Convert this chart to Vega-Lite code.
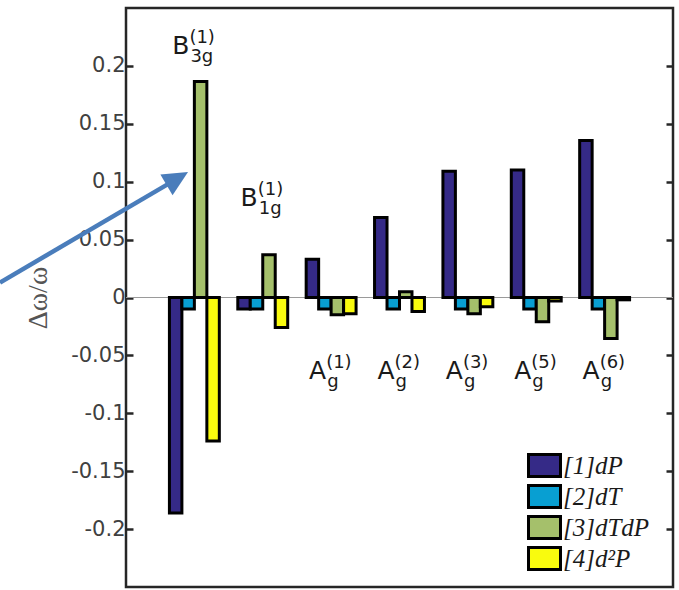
{
  "$schema": "https://vega.github.io/schema/vega-lite/v6.json",
  "width": 547,
  "height": 579,
  "autosize": {"type": "none"},
  "padding": {"left": 126, "top": 8, "right": 6, "bottom": 3},
  "background": "white",
  "config": {
    "view": {"stroke": "#262626", "strokeWidth": 2.5},
    "axis": {
      "labelFont": "DejaVu Sans",
      "labelFontSize": 21,
      "labelColor": "#404040",
      "tickColor": "#262626",
      "tickWidth": 2.5,
      "domain": false,
      "grid": false
    }
  },
  "datasets": {
    "bars": [
      {"group": "B3g(1)", "series": "[1]dP", "value": -0.186},
      {"group": "B3g(1)", "series": "[2]dT", "value": -0.01},
      {"group": "B3g(1)", "series": "[3]dTdP", "value": 0.1865},
      {"group": "B3g(1)", "series": "[4]d²P", "value": -0.124},
      {"group": "B1g(1)", "series": "[1]dP", "value": -0.01},
      {"group": "B1g(1)", "series": "[2]dT", "value": -0.01},
      {"group": "B1g(1)", "series": "[3]dTdP", "value": 0.037},
      {"group": "B1g(1)", "series": "[4]d²P", "value": -0.026},
      {"group": "Ag(1)", "series": "[1]dP", "value": 0.033},
      {"group": "Ag(1)", "series": "[2]dT", "value": -0.01},
      {"group": "Ag(1)", "series": "[3]dTdP", "value": -0.015},
      {"group": "Ag(1)", "series": "[4]d²P", "value": -0.014},
      {"group": "Ag(2)", "series": "[1]dP", "value": 0.069},
      {"group": "Ag(2)", "series": "[2]dT", "value": -0.01},
      {"group": "Ag(2)", "series": "[3]dTdP", "value": 0.005},
      {"group": "Ag(2)", "series": "[4]d²P", "value": -0.012},
      {"group": "Ag(3)", "series": "[1]dP", "value": 0.109},
      {"group": "Ag(3)", "series": "[2]dT", "value": -0.01},
      {"group": "Ag(3)", "series": "[3]dTdP", "value": -0.014},
      {"group": "Ag(3)", "series": "[4]d²P", "value": -0.008},
      {"group": "Ag(5)", "series": "[1]dP", "value": 0.11},
      {"group": "Ag(5)", "series": "[2]dT", "value": -0.01},
      {"group": "Ag(5)", "series": "[3]dTdP", "value": -0.021},
      {"group": "Ag(5)", "series": "[4]d²P", "value": -0.003},
      {"group": "Ag(6)", "series": "[1]dP", "value": 0.1355},
      {"group": "Ag(6)", "series": "[2]dT", "value": -0.01},
      {"group": "Ag(6)", "series": "[3]dTdP", "value": -0.0355},
      {"group": "Ag(6)", "series": "[4]d²P", "value": -0.002}
    ],
    "labels": [
      {"group": "B3g(1)", "main": "B", "sup": "(1)", "sub": "3g", "ly": 0.2107},
      {"group": "B1g(1)", "main": "B", "sup": "(1)", "sub": "1g", "ly": 0.079},
      {"group": "Ag(1)", "main": "A", "sup": "(1)", "sub": "g", "ly": -0.0704},
      {"group": "Ag(2)", "main": "A", "sup": "(2)", "sub": "g", "ly": -0.0704},
      {"group": "Ag(3)", "main": "A", "sup": "(3)", "sub": "g", "ly": -0.0704},
      {"group": "Ag(5)", "main": "A", "sup": "(5)", "sub": "g", "ly": -0.0704},
      {"group": "Ag(6)", "main": "A", "sup": "(6)", "sub": "g", "ly": -0.0704}
    ],
    "arrow": [{"x": -1.843, "y": 0.0129, "x2": 0.614, "y2": 0.0979}],
    "head": [{"x": 0.7496, "y": 0.1028}]
  },
  "resolve": {"scale": {"x": "independent"}, "axis": {"y": "independent"}},
  "layer": [
    {
      "layer": [
        {
          "data": {"name": "bars"},
          "mark": {"type": "rule", "color": "#9a9a9a", "strokeWidth": 1},
          "encoding": {
            "y": {
              "datum": 0,
              "type": "quantitative",
              "scale": {"domain": [-0.25, 0.25], "nice": false},
              "axis": {
                "title": "Δω/ω",
                "values": [-0.2, -0.15, -0.1, -0.05, 0, 0.05, 0.1, 0.15, 0.2],
                "labelExpr": "replace(format(datum.value, '~g'), '−', '-')",
                "tickSize": -7,
                "labelPadding": 8,
                "titleFont": "Liberation Serif",
                "titleFontSize": 28,
                "titleFontWeight": "normal",
                "titleColor": "#555555",
                "titlePadding": 18
              }
            }
          }
        },
        {
          "data": {"name": "bars"},
          "mark": {"type": "bar", "stroke": "black", "strokeWidth": 3, "strokeJoin": "miter"},
          "encoding": {
            "x": {
              "field": "group",
              "type": "nominal",
              "sort": ["B3g(1)", "B1g(1)", "Ag(1)", "Ag(2)", "Ag(3)", "Ag(5)", "Ag(6)"],
              "scale": {"type": "band", "paddingInner": 0.27, "paddingOuter": 0.635},
              "axis": null
            },
            "xOffset": {
              "field": "series",
              "type": "nominal",
              "scale": {"paddingInner": 0, "paddingOuter": 0}
            },
            "y": {
              "field": "value",
              "type": "quantitative",
              "scale": {"domain": [-0.25, 0.25], "nice": false},
              "axis": {
                "title": "Δω/ω",
                "values": [-0.2, -0.15, -0.1, -0.05, 0, 0.05, 0.1, 0.15, 0.2],
                "labelExpr": "replace(format(datum.value, '~g'), '−', '-')",
                "tickSize": -7,
                "labelPadding": 8,
                "titleFont": "Liberation Serif",
                "titleFontSize": 28,
                "titleFontWeight": "normal",
                "titleColor": "#555555",
                "titlePadding": 18
              }
            },
            "fill": {
              "field": "series",
              "type": "nominal",
              "scale": {
                "domain": ["[1]dP", "[2]dT", "[3]dTdP", "[4]d²P"],
                "range": ["#352a87", "#089fd2", "#a5c06b", "#f9fb0e"]
              },
              "legend": {
                "title": null,
                "orient": "none",
                "legendX": 406,
                "legendY": 445,
                "padding": 0,
                "symbolType": "M-1.4545,-1H1.4545V1H-1.4545Z",
                "symbolSize": 484,
                "symbolStrokeColor": "black",
                "symbolStrokeWidth": 3,
                "symbolOpacity": 1,
                "labelFont": "Liberation Serif",
                "labelFontStyle": "italic",
                "labelFontSize": 25,
                "labelColor": "#1a1a1a",
                "labelOffset": 6,
                "rowPadding": -4
              }
            }
          }
        },
        {
          "data": {"name": "labels"},
          "mark": {"type": "text", "font": "DejaVu Sans", "fontSize": 25, "align": "right", "baseline": "alphabetic", "dx": -5, "color": "#1a1a1a"},
          "encoding": {
            "x": {"field": "group", "type": "nominal", "sort": ["B3g(1)", "B1g(1)", "Ag(1)", "Ag(2)", "Ag(3)", "Ag(5)", "Ag(6)"], "axis": null},
            "y": {"field": "ly", "type": "quantitative"},
            "text": {"field": "main"}
          }
        },
        {
          "data": {"name": "labels"},
          "mark": {"type": "text", "font": "DejaVu Sans", "fontSize": 18, "align": "left", "baseline": "alphabetic", "dx": -5, "dy": -11, "color": "#1a1a1a"},
          "encoding": {
            "x": {"field": "group", "type": "nominal", "sort": ["B3g(1)", "B1g(1)", "Ag(1)", "Ag(2)", "Ag(3)", "Ag(5)", "Ag(6)"], "axis": null},
            "y": {"field": "ly", "type": "quantitative"},
            "text": {"field": "sup"}
          }
        },
        {
          "data": {"name": "labels"},
          "mark": {"type": "text", "font": "DejaVu Sans", "fontSize": 18, "align": "left", "baseline": "alphabetic", "dx": -4, "dy": 8, "color": "#1a1a1a"},
          "encoding": {
            "x": {"field": "group", "type": "nominal", "sort": ["B3g(1)", "B1g(1)", "Ag(1)", "Ag(2)", "Ag(3)", "Ag(5)", "Ag(6)"], "axis": null},
            "y": {"field": "ly", "type": "quantitative"},
            "text": {"field": "sub"}
          }
        }
      ]
    },
    {
      "layer": [
        {
          "data": {"name": "arrow"},
          "mark": {"type": "rule", "color": "#4a7dbb", "strokeWidth": 4.5},
          "encoding": {
            "x": {"field": "x", "type": "quantitative", "scale": {"domain": [0, 8], "nice": false, "zero": false}, "axis": null},
            "x2": {"field": "x2"},
            "y": {
              "field": "y",
              "type": "quantitative",
              "scale": {"domain": [-0.25, 0.25], "nice": false},
              "axis": {
                "orient": "right",
                "title": null,
                "labels": false,
                "values": [-0.2, -0.15, -0.1, -0.05, 0, 0.05, 0.1, 0.15, 0.2],
                "tickSize": -7
              }
            },
            "y2": {"field": "y2"}
          }
        },
        {
          "data": {"name": "head"},
          "mark": {"type": "point", "shape": "M0,-1L0.96,1L-0.96,1Z", "size": 625, "angle": 59.5, "filled": true, "color": "#4a7dbb", "opacity": 1},
          "encoding": {
            "x": {"field": "x", "type": "quantitative"},
            "y": {"field": "y", "type": "quantitative"}
          }
        }
      ]
    }
  ]
}
